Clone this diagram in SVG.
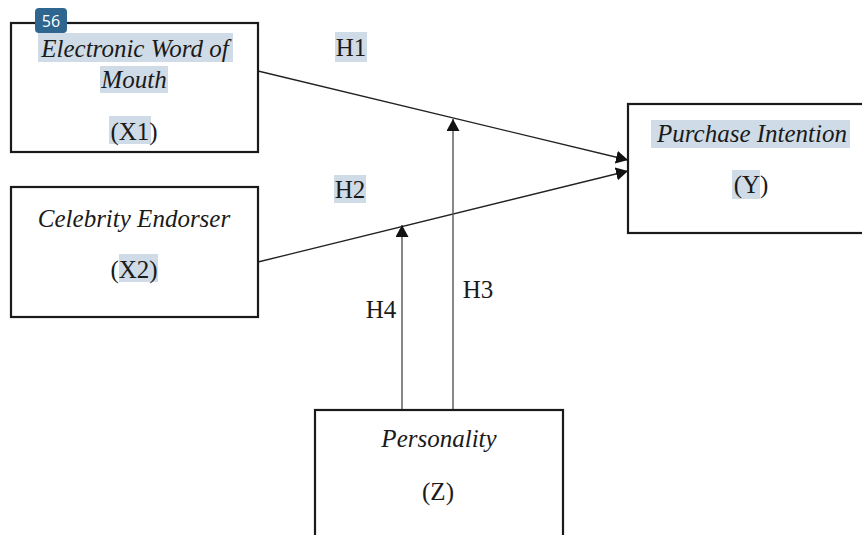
<svg xmlns="http://www.w3.org/2000/svg" width="862" height="535" viewBox="0 0 862 535">
<style>
.box{fill:#fff;stroke:#1a1a1a;stroke-width:2.2}
.hl{fill:#cfdbe6}
.edge{fill:none;stroke:#222;stroke-width:1.3}
.v{fill:none;stroke:#555;stroke-width:1.4}
</style>
<defs>
<marker id="arr" markerUnits="userSpaceOnUse" markerWidth="14" markerHeight="14" refX="12" refY="6.5" orient="auto">
<path d="M0,0 L12,6.5 L0,13 z" fill="#111"/>
</marker>
</defs>
<rect width="862" height="535" fill="#fff"/>
<g id="connectors">
<line class="edge" x1="258" y1="71" x2="628" y2="160" marker-end="url(#arr)"/>
<line class="edge" x1="258" y1="262" x2="628" y2="171" marker-end="url(#arr)"/>
<line class="v" x1="453" y1="410" x2="453" y2="119" marker-end="url(#arr)"/>
<line class="v" x1="402" y1="410" x2="402" y2="225" marker-end="url(#arr)"/>
<rect class="hl" x="335" y="32" width="32" height="30"/>
<text font-family="Liberation Serif" font-size="25" fill="#1a1a1a" text-anchor="middle" x="351" y="56">H1</text>
<rect class="hl" x="334" y="175" width="32" height="28"/>
<text font-family="Liberation Serif" font-size="25" fill="#1a1a1a" text-anchor="middle" x="350" y="198">H2</text>
<text font-family="Liberation Serif" font-size="25" fill="#1a1a1a" text-anchor="middle" x="478" y="298">H3</text>
<text font-family="Liberation Serif" font-size="25" fill="#1a1a1a" text-anchor="middle" x="381" y="318">H4</text>
</g>
<g id="x1">
<rect class="box" x="11" y="23" width="247" height="129"/>
<rect class="hl" x="38" y="33" width="195" height="29"/>
<rect class="hl" x="100" y="66" width="68" height="27"/>
<rect class="hl" x="109" y="116" width="42" height="28"/>
<text font-family="Liberation Serif" font-size="25" font-style="italic" fill="#1a1a1a" text-anchor="middle" x="135" y="57">Electronic Word of</text>
<text font-family="Liberation Serif" font-size="25" font-style="italic" fill="#1a1a1a" text-anchor="middle" x="134" y="88">Mouth</text>
<text font-family="Liberation Serif" font-size="25" fill="#1a1a1a" text-anchor="middle" x="134" y="140">(X1)</text>
</g>
<g id="x2">
<rect class="box" x="11" y="187" width="247" height="130"/>
<rect class="hl" x="119" y="254" width="39" height="28"/>
<text font-family="Liberation Serif" font-size="25" font-style="italic" fill="#1a1a1a" text-anchor="middle" x="134" y="227">Celebrity Endorser</text>
<text font-family="Liberation Serif" font-size="25" fill="#1a1a1a" text-anchor="middle" x="134" y="278">(X2)</text>
</g>
<g id="y">
<rect class="box" x="628" y="104" width="250" height="129"/>
<rect class="hl" x="651" y="120" width="199" height="28"/>
<rect class="hl" x="732" y="170" width="28" height="29"/>
<text font-family="Liberation Serif" font-size="25" font-style="italic" fill="#1a1a1a" text-anchor="middle" x="752" y="142">Purchase Intention</text>
<text font-family="Liberation Serif" font-size="25" fill="#1a1a1a" text-anchor="middle" x="751" y="193">(Y)</text>
</g>
<g id="z">
<rect class="box" x="315" y="410" width="248" height="140"/>
<text font-family="Liberation Serif" font-size="25" font-style="italic" fill="#1a1a1a" text-anchor="middle" x="439" y="447">Personality</text>
<text font-family="Liberation Serif" font-size="25" fill="#1a1a1a" text-anchor="middle" x="438" y="500">(Z)</text>
</g>
<g id="badge">
<rect x="35" y="8" width="32" height="25" rx="4" fill="#2f6690"/>
<text x="51" y="27" font-family="Open Sans" font-size="16" fill="#fff" text-anchor="middle">56</text>
</g>
</svg>
